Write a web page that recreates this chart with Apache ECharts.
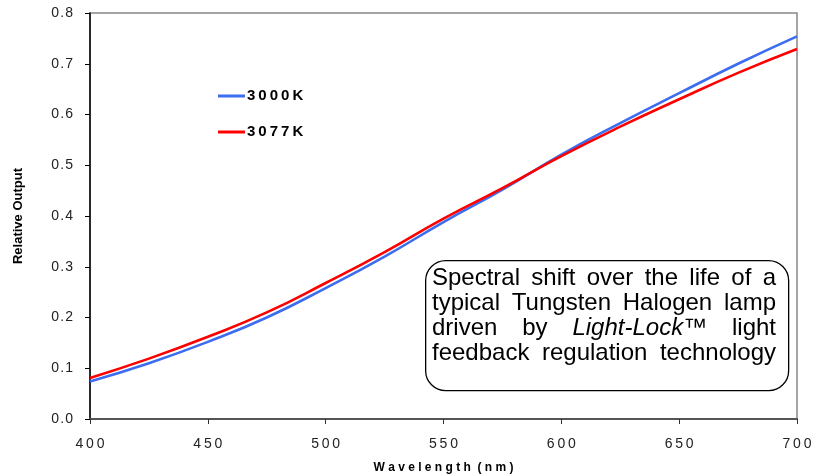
<!DOCTYPE html>
<html>
<head>
<meta charset="utf-8">
<script src="https://cdn.jsdelivr.net/npm/echarts@6/dist/echarts.min.js"></script>
<style>
  html, body { margin: 0; padding: 0; background: #fff; }
  #chart { width: 814px; height: 475px; }
</style>
</head>
<body>
<div id="chart"></div>
<script>
// wavelengths (nm) and relative output
const wavelengths = [400, 425, 450, 475, 500, 525, 550, 575, 600, 625, 650, 675, 700];
const k3000 = [0.074, 0.110, 0.152, 0.200, 0.258, 0.320, 0.388, 0.452, 0.521, 0.583, 0.642, 0.700, 0.754];
const k3077 = [0.081, 0.119, 0.162, 0.210, 0.268, 0.329, 0.395, 0.455, 0.518, 0.576, 0.630, 0.682, 0.729];
const seriesNames = ['3000K', '3077K'];
// *...* marks italic pieces
const noteLines = [
  'Spectral shift over the life of a',
  'typical Tungsten Halogen lamp',
  'driven by *Light-Lock*\u2122 light',
  'feedback regulation technology'
];

const font = 'Liberation Sans, Arial, sans-serif';
const spaced = (s, sep) => String(s).split('').join(sep);
const chart = echarts.init(document.getElementById('chart'), null, { renderer: 'canvas' });

const pairs = arr => wavelengths.map((w, i) => [w, arr[i]]);

// annotation box, justified text placed word by word
const boxL = 425, boxR = 788, boxT = 260, boxB = 390;
const textL = 432, textR = 776, noteSize = 24;
const ctx = document.createElement('canvas').getContext('2d');
const fontOf = it => (it ? 'italic ' : '') + noteSize + 'px ' + font;
const measure = (t, it) => { ctx.font = fontOf(it); return ctx.measureText(t).width; };

const noteEls = [{
  type: 'rect', left: boxL, top: boxT,
  shape: { width: boxR - boxL, height: boxB - boxT, r: 20 },
  style: { fill: '#fff', stroke: '#000', lineWidth: 1.3 }, z: 10
}];
noteLines.forEach((ln, i) => {
  const y = 278 + i * 25;
  const words = ln.split(' ').map(w => w.split('*').map((p, k) => [p, k % 2 === 1]).filter(p => p[0]));
  const widths = words.map(w => w.reduce((s, p) => s + measure(p[0], p[1]), 0));
  const total = widths.reduce((a, b) => a + b, 0);
  const gap = (textR - textL - total) / (words.length - 1);
  let x = textL;
  words.forEach((w, wi) => {
    let px = x;
    w.forEach(p => {
      noteEls.push({ type: 'text', x: px, y, z: 11,
        style: { text: p[0], fill: '#000', font: fontOf(p[1]), textAlign: 'left', textVerticalAlign: 'middle' } });
      px += measure(p[0], p[1]);
    });
    x += widths[wi] + gap;
  });
});

chart.setOption({
  animation: false,
  backgroundColor: '#fff',
  grid: { left: 90, right: 17, top: 13, bottom: 56, containLabel: false, outerBoundsMode: 'none',
    show: true, borderColor: '#888', borderWidth: 1.5 },
  legend: {
    orient: 'vertical', left: 213, top: 83, itemGap: 20,
    itemWidth: 27, itemHeight: 3,
    data: seriesNames.map(n => ({ name: n, icon: 'rect' })),
    formatter: n => spaced(n, '\u2009'),
    textStyle: { fontFamily: font, fontWeight: 'bold', fontSize: 15, lineHeight: 16, color: '#000', padding: [0, 0, 0, -3] }
  },
  xAxis: {
    type: 'value', min: 400, max: 700, interval: 50,
    name: 'W a v e l e n g t h  ( n m )', nameLocation: 'middle', nameGap: 43,
    nameTextStyle: { fontFamily: font, fontWeight: 'bold', fontSize: 12, color: '#000' },
    axisLine: { show: true, lineStyle: { color: '#555', width: 2 } },
    axisTick: { show: true, length: 5, lineStyle: { color: '#333' } },
    axisLabel: { fontFamily: font, fontSize: 14, color: '#222', margin: 18, formatter: v => spaced(v, '\u2009') },
    splitLine: { show: false }
  },
  yAxis: {
    type: 'value', min: 0, max: 0.8, interval: 0.1,
    name: 'Relative Output', nameLocation: 'middle', nameGap: 65,
    nameTextStyle: { fontFamily: font, fontWeight: 'bold', fontSize: 13, color: '#000' },
    axisLine: { show: true, lineStyle: { color: '#000', width: 1.5 } },
    axisTick: { show: true, length: 5, lineStyle: { color: '#000' } },
    axisLabel: { fontFamily: font, fontSize: 14, color: '#222', margin: 17, formatter: v => spaced(v.toFixed(1), '\u200A') },
    splitLine: { show: false }
  },
  series: [
    { name: seriesNames[0], type: 'line', smooth: true, symbol: 'none', data: pairs(k3000),
      itemStyle: { color: '#3c6cf0' }, lineStyle: { color: '#3c6cf0', width: 2.6 } },
    { name: seriesNames[1], type: 'line', smooth: true, symbol: 'none', data: pairs(k3077),
      itemStyle: { color: '#f00' }, lineStyle: { color: '#f00', width: 2.6 } }
  ],
  graphic: noteEls
});
</script>
</body>
</html>
